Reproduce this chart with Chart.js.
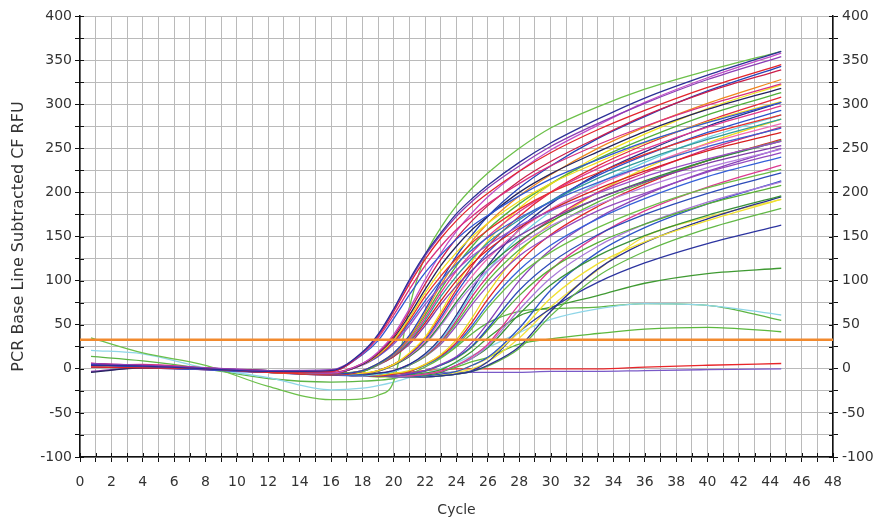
<!DOCTYPE html>
<html>
<head>
<meta charset="utf-8">
<script src="https://cdn.jsdelivr.net/npm/chart.js@4.4.1/dist/chart.umd.min.js"></script>
<style>
  html, body { margin: 0; padding: 0; background: #fff; }
  #wrap { width: 890px; height: 522px; position: relative; }
</style>
</head>
<body>
<div id="wrap"><canvas id="pcr"></canvas></div>
<script>
const cycles = [0.7, 4, 8, 12, 16, 18, 19, 20, 21, 22, 23, 24, 25, 26, 28, 30, 33, 36, 40, 44.7];
const threshold = 33;

// RFU per well (same order as cycles)
const w01 = [4, 3, 0, -3, -2, 19, 39, 68, 101, 130, 154, 176, 193, 208, 234, 256, 283, 307, 333, 360];
const w02 = [6, 4, 1, -2, -1, 18, 38, 67, 99, 128, 152, 173, 190, 205, 230, 252, 278, 301, 328, 354];
const w03 = [2, 1, 0, -4, -3, 18, 37, 65, 96, 124, 148, 168, 185, 199, 224, 245, 271, 293, 319, 345];
const w04 = [3, 5, 1, -3, -3, 17, 35, 61, 90, 117, 139, 158, 173, 187, 210, 230, 254, 275, 299, 323];
const w05 = [5, 2, -1, -4, -3, 16, 32, 57, 84, 109, 129, 147, 162, 174, 196, 215, 237, 257, 279, 302];
const w06 = [4, 2, 0, -3, -5, 6, 19, 39, 68, 101, 131, 156, 177, 195, 224, 248, 276, 302, 330, 358];
const w07 = [6, 3, 0, -2, -4, 6, 18, 37, 65, 96, 124, 148, 168, 185, 213, 235, 262, 287, 314, 339];
const w08 = [-4, 1, 0, -2, -5, 5, 17, 35, 61, 90, 117, 139, 158, 173, 200, 221, 246, 269, 294, 318];
const w09 = [3, 2, 0, -3, -5, 5, 16, 33, 58, 86, 111, 132, 150, 165, 190, 210, 234, 256, 280, 303];
const w10 = [5, 3, 0, -4, -6, 5, 15, 31, 55, 82, 105, 125, 143, 157, 181, 200, 222, 243, 266, 288];
const w11 = [2, 1, -1, -3, -6, 5, 14, 30, 52, 77, 100, 119, 135, 149, 171, 189, 211, 230, 252, 273];
const w12 = [4, 4, 1, -2, -5, 4, 14, 28, 49, 73, 94, 112, 128, 140, 162, 179, 199, 218, 238, 258];
const w13 = [5, 3, 0, -3, -6, -2, 6, 18, 38, 67, 99, 128, 152, 173, 205, 230, 261, 286, 315, 343];
const w14 = [3, 2, 0, -4, -6, -2, 6, 18, 36, 64, 95, 122, 145, 165, 196, 220, 250, 274, 301, 328];
const w15 = [2, 3, 1, -3, -5, -3, 5, 17, 35, 61, 90, 117, 139, 158, 187, 210, 238, 261, 288, 313];
const w16 = [6, 4, 0, -3, -6, -2, 5, 16, 33, 58, 86, 111, 132, 150, 178, 200, 227, 249, 274, 298];
const w17 = [4, 2, 0, -2, -5, -3, 5, 15, 31, 55, 82, 105, 125, 143, 169, 190, 216, 237, 260, 283];
const w18 = [3, 1, -1, -4, -7, -3, 5, 14, 30, 52, 77, 100, 119, 135, 160, 180, 204, 224, 247, 268];
const w19 = [-3, 1, 0, -3, -6, -3, 4, 14, 28, 49, 73, 94, 112, 128, 151, 170, 193, 212, 233, 253];
const w20 = [4, 3, 0, -3, -6, -5, -2, 5, 18, 36, 64, 95, 122, 145, 182, 209, 241, 266, 295, 322];
const w21 = [5, 2, 0, -3, -5, -5, -2, 5, 17, 35, 61, 90, 117, 139, 173, 200, 230, 254, 281, 308];
const w22 = [2, 1, 0, -4, -7, -6, -2, 5, 16, 33, 58, 86, 111, 132, 165, 190, 219, 242, 268, 293];
const w23 = [6, 3, 1, -2, -5, -5, -2, 5, 15, 31, 55, 82, 105, 125, 157, 181, 208, 230, 255, 278];
const w24 = [3, 2, 0, -3, -6, -6, -3, 4, 14, 29, 51, 76, 98, 116, 145, 167, 193, 213, 236, 258];
const w25 = [4, 3, 0, -2, -5, -5, -3, 4, 14, 28, 49, 73, 94, 112, 140, 162, 186, 206, 228, 249];
const w26 = [5, 3, 0, -3, -6, -7, -5, -2, 5, 17, 35, 61, 90, 117, 158, 187, 221, 246, 275, 302];
const w27 = [3, 2, 0, -4, -6, -8, -6, -3, 5, 16, 33, 58, 86, 111, 150, 178, 210, 234, 262, 288];
const w28 = [4, 2, -1, -3, -6, -7, -5, -2, 5, 15, 31, 55, 82, 105, 143, 169, 200, 222, 249, 274];
const w29 = [2, 3, 1, -3, -5, -7, -6, -3, 4, 14, 30, 52, 77, 100, 135, 160, 189, 211, 236, 259];
const w30 = [5, 3, 0, -3, -6, -8, -6, -3, 4, 14, 28, 49, 73, 94, 128, 151, 179, 199, 223, 245];
const w31 = [4, 2, 0, -3, -6, -7, -7, -5, -2, 5, 16, 33, 58, 86, 132, 165, 200, 227, 256, 283];
const w32 = [3, 2, 0, -3, -6, -8, -8, -6, -3, 5, 15, 30, 53, 79, 121, 152, 184, 209, 236, 260];
const w33 = [5, 3, 0, -4, -7, -8, -8, -6, -3, 4, 14, 28, 49, 73, 112, 140, 170, 193, 218, 240];
const w34 = [2, 1, 0, -3, -6, -7, -7, -6, -3, 4, 13, 26, 46, 69, 106, 132, 160, 182, 205, 226];
const w35 = [4, 3, 0, -3, -6, -7, -8, -8, -5, -2, 5, 14, 30, 52, 100, 135, 171, 197, 224, 250];
const w36 = [3, 2, 0, -4, -6, -8, -8, -8, -6, -2, 4, 13, 26, 46, 89, 120, 152, 175, 199, 222];
const w37 = [5, 2, 0, -3, -7, -8, -9, -8, -6, -3, 4, 12, 25, 44, 83, 113, 143, 164, 187, 208];
const w38 = [4, 2, 0, -3, -6, -7, -8, -8, -8, -6, -3, 4, 14, 28, 73, 112, 151, 179, 206, 231];
const w39 = [3, 3, 1, -3, -6, -8, -8, -9, -8, -6, -3, 4, 12, 26, 67, 103, 139, 164, 189, 212];
const w40 = [2, 1, 0, -3, -6, -7, -8, -8, -8, -7, -4, 4, 12, 24, 62, 95, 128, 151, 174, 196];
const w41 = [4, 3, 0, -3, -6, -8, -8, -9, -9, -8, -6, -3, 4, 13, 46, 89, 132, 160, 187, 213];
const w42 = [3, 2, 0, -4, -7, -8, -9, -9, -9, -8, -6, -3, 4, 12, 42, 80, 119, 144, 168, 192];
const w43 = [5, 2, 0, -3, -6, -8, -8, -9, -9, -9, -8, -6, -3, 4, 25, 65, 113, 143, 170, 195];
const w44 = [3, 2, 0, -3, -6, -7, -8, -8, -9, -9, -8, -6, -3, 3, 23, 60, 105, 133, 159, 182];
const w45 = [4, 2, 0, -3, -6, -8, -8, -9, -9, -9, -8, -6, -2, 8, 42, 68, 98, 120, 142, 163];
const w46 = [3, 2, 0, -3, -6, -8, -8, -9, -9, -8, -7, -4, 0, 8, 35, 70, 112, 150, 172, 192];
const w47 = [4, 3, 0, -3, -6, -7, -8, -8, -7, -5, -1, 8, 20, 35, 60, 70, 83, 97, 108, 114];
const w48 = [35, 18, 4, -20, -35, -34, -30, -14, 70, 128, 160, 185, 205, 222, 250, 273, 297, 317, 338, 360];
const w49 = [21, 17, 1, -10, -24, -22, -19, -15, -10, -5, 0, 7, 15, 24, 41, 56, 68, 74, 72, 61];
const w50 = [14, 9, 0, -11, -15, -14, -13, -11, -6, 2, 12, 25, 40, 52, 65, 68, 70, 74, 72, 55];
const w51 = [4, 2, 0, -3, -6, -7, -8, -8, -8, -6, -3, 2, 8, 13, 28, 34, 40, 45, 47, 42];
const w52 = [3, 2, 0, -3, -5, -6, -6, -5, -4, -2, -1, 0, 0, 0, 0, 0, 0, 2, 4, 6];
const w53 = [2, 1, 0, -3, -5, -6, -6, -6, -5, -5, -4, -4, -4, -4, -4, -3, -3, -2, -1, 0];

const wells = [w01, w02, w03, w04, w05, w06, w07, w08, w09, w10, w11, w12, w13, w14, w15, w16, w17, w18,
  w19, w20, w21, w22, w23, w24, w25, w26, w27, w28, w29, w30, w31, w32, w33, w34, w35, w36, w37, w38,
  w39, w40, w41, w42, w43, w44, w45, w46, w47, w48, w49, w50, w51, w52, w53];

const wellColors = ['#2a2f96', '#8b3db5', '#e3242b', '#d92f7e', '#2f55d4', '#c04cc8', '#cc1d4a', '#23235e',
  '#f0dc1e', '#e8302a', '#3b5fd0', '#9a4fc8', '#2443b8', '#f0861e', '#4fae3a', '#e0358f', '#2f9c9a',
  '#d82020', '#7e3aa8', '#f2e21c', '#e22a3a', '#2f4fc9', '#ef6ab4', '#2e8a3c', '#b47ee0', '#262e8c',
  '#6fcfe3', '#d4287a', '#5cb83c', '#9448c0', '#ecd81a', '#e0262c', '#3560d8', '#6bbf45', '#8840b8',
  '#2c4ab8', '#58b034', '#dc3a90', '#a878d8', '#38913a', '#2f55c8', '#f0e030', '#2a2f90', '#62b846',
  '#2c34a0', '#f2e040', '#3f9a32', '#6cc04a', '#8fd6e8', '#5db544', '#5cb83e', '#e8262a', '#7a5ac8'];

const xMin = 0, xMax = 48;
const yMin = -100, yMax = 400;

const datasets = [{
  label: 'Threshold',
  data: [{ x: xMin, y: threshold }, { x: xMax, y: threshold }],
  borderColor: '#f28a2e',
  borderWidth: 2.5,
  pointRadius: 0,
  order: -1
}];
wells.forEach((vals, i) => {
  datasets.push({
    label: 'Well ' + (i + 1),
    data: cycles.map((c, j) => ({ x: c, y: vals[j] })),
    borderColor: wellColors[i],
    borderWidth: 1.3,
    pointRadius: 0,
    cubicInterpolationMode: 'monotone',
    order: 1
  });
});

// short black tick marks crossing the axis lines, like the instrument software draws
const crossTicks = {
  id: 'crossTicks',
  afterDatasetsDraw(chart) {
    const ctx = chart.ctx;
    const a = chart.chartArea;
    ctx.save();
    ctx.strokeStyle = '#111';
    ctx.lineWidth = 1;
    ctx.beginPath();
    chart.scales.x.ticks.forEach(t => {
      const px = Math.round(chart.scales.x.getPixelForValue(t.value)) + 0.5;
      ctx.moveTo(px, a.bottom);
      ctx.lineTo(px, a.bottom - 4);
    });
    chart.scales.y.ticks.forEach(t => {
      const py = Math.round(chart.scales.y.getPixelForValue(t.value)) + 0.5;
      ctx.moveTo(a.left, py);
      ctx.lineTo(a.left + 4, py);
      ctx.moveTo(a.right, py);
      ctx.lineTo(a.right - 4, py);
    });
    ctx.stroke();
    ctx.restore();
  }
};

const font = { family: 'DejaVu Sans', size: 14 };

new Chart(document.getElementById('pcr'), {
  type: 'line',
  data: { datasets },
  plugins: [crossTicks],
  options: {
    responsive: true,
    maintainAspectRatio: false,
    animation: false,
    layout: { padding: { top: 16, right: 0, left: 0, bottom: 0 } },
    plugins: { legend: { display: false }, tooltip: { enabled: false } },
    scales: {
      x: {
        type: 'linear',
        min: xMin,
        max: xMax,
        afterFit(s) { s.height = 65; },
        ticks: {
          stepSize: 1,
          autoSkip: false,
          maxRotation: 0,
          padding: 12,
          color: '#333',
          font,
          callback: v => (v % 2 === 0 ? String(v) : '')
        },
        grid: { color: '#bababa', lineWidth: 1, tickLength: 5, tickColor: '#111' },
        border: { color: '#111', width: 1.5 },
        title: { display: true, text: 'Cycle', color: '#333', font, padding: { top: 0, bottom: 3 } }
      },
      y: {
        position: 'left',
        min: yMin,
        max: yMax,
        afterFit(s) { s.width = 80; },
        ticks: {
          stepSize: 25,
          autoSkip: false,
          padding: 3,
          color: '#333',
          font,
          callback: v => (v % 50 === 0 ? String(v) : '')
        },
        grid: { color: '#bababa', lineWidth: 1, tickLength: 5, tickColor: '#111' },
        border: { color: '#111', width: 1.5 },
        title: {
          display: true,
          text: 'PCR Base Line Subtracted CF RFU',
          color: '#333',
          font: { family: 'DejaVu Sans', size: 16 },
          padding: { top: 9, bottom: 0 }
        }
      },
      y2: {
        position: 'right',
        min: yMin,
        max: yMax,
        afterFit(s) { s.width = 57; },
        ticks: {
          stepSize: 25,
          autoSkip: false,
          padding: 4,
          color: '#333',
          font,
          callback: v => (v % 50 === 0 ? String(v) : '')
        },
        grid: { display: true, drawOnChartArea: false, tickLength: 5, tickColor: '#111' },
        border: { color: '#111', width: 1.5 }
      }
    }
  }
});
</script>
</body>
</html>
